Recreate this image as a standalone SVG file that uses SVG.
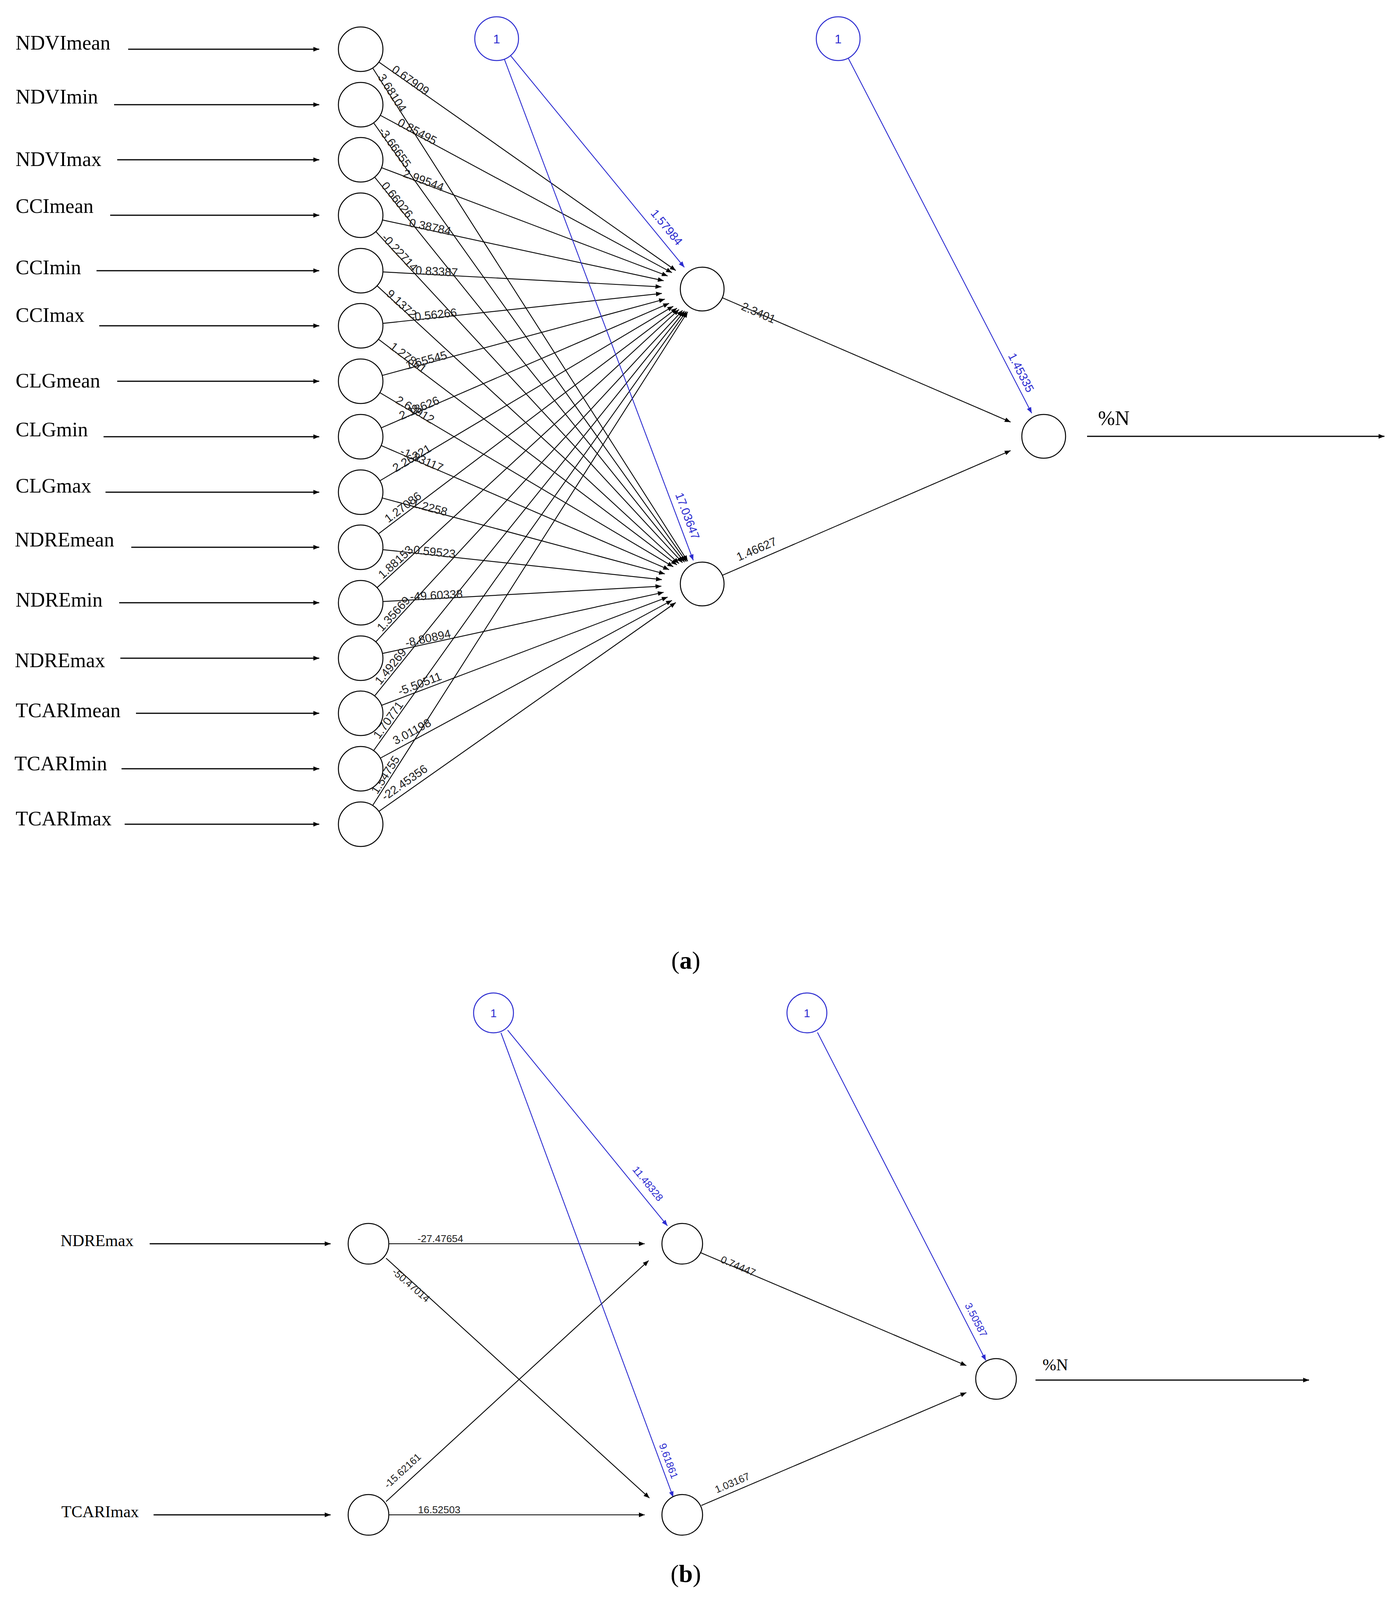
<svg xmlns="http://www.w3.org/2000/svg" width="3570" height="4102" viewBox="0 0 3570 4102">
<style>
.c{fill:#fff;stroke:#000;stroke-width:2.5}
.b{fill:#fff;stroke:#2b2bd0;stroke-width:2.5}
.l{stroke:#000;stroke-width:2.2;fill:none;marker-end:url(#ah)}
.bl{stroke:#2b2bd0;stroke-width:2.2;fill:none;marker-end:url(#bh)}
.in{stroke:#000;stroke-width:3;fill:none;marker-end:url(#ah)}
.lab{font-family:"Liberation Serif",serif;font-size:52px;fill:#000}
.labb{font-family:"Liberation Serif",serif;font-size:42px;fill:#000}
.w{font-family:"Liberation Sans",Arial,sans-serif;font-size:30px;fill:#222;text-anchor:middle}
.wb{font-family:"Liberation Sans",Arial,sans-serif;font-size:26px;fill:#222;text-anchor:middle}
.bw{fill:#2b2bd0}
.one{font-family:"Liberation Sans",Arial,sans-serif;font-size:32px;fill:#2b2bd0;text-anchor:middle}
.cap{font-family:"Liberation Serif",serif;font-size:64px;fill:#000;text-anchor:middle}
</style>
<defs>
<marker id="ah" markerUnits="userSpaceOnUse" markerWidth="16" markerHeight="12" refX="15" refY="6" orient="auto"><path d="M0,0 L15,6 L0,12 z" fill="#000"/></marker>
<marker id="bh" markerUnits="userSpaceOnUse" markerWidth="16" markerHeight="12" refX="15" refY="6" orient="auto"><path d="M0,0 L15,6 L0,12 z" fill="#2b2bd0"/></marker>
</defs>

<g id="connectors">
<!-- (a) input arrows -->
<line class="in" x1="328" y1="126" x2="817" y2="126"/>
<line class="in" x1="292" y1="268" x2="817" y2="268"/>
<line class="in" x1="300" y1="409" x2="817" y2="409"/>
<line class="in" x1="282" y1="551" x2="817" y2="551"/>
<line class="in" x1="247" y1="693" x2="817" y2="693"/>
<line class="in" x1="254" y1="834" x2="817" y2="834"/>
<line class="in" x1="300" y1="976" x2="817" y2="976"/>
<line class="in" x1="265" y1="1118" x2="817" y2="1118"/>
<line class="in" x1="270" y1="1260" x2="817" y2="1260"/>
<line class="in" x1="336" y1="1401" x2="817" y2="1401"/>
<line class="in" x1="305" y1="1543" x2="817" y2="1543"/>
<line class="in" x1="308" y1="1685" x2="817" y2="1685"/>
<line class="in" x1="348" y1="1826" x2="817" y2="1826"/>
<line class="in" x1="311" y1="1968" x2="817" y2="1968"/>
<line class="in" x1="319" y1="2110" x2="817" y2="2110"/>
<line class="in" x1="2782" y1="1117" x2="3543" y2="1117"/>
<!-- (a) input -> hidden -->
<line class="l" x1="969.6" y1="158.8" x2="1729.4" y2="692.5"/>
<line class="l" x1="953.7" y1="174" x2="1760" y2="1437"/>
<line class="l" x1="973.2" y1="295.1" x2="1719.6" y2="698.1"/>
<line class="l" x1="956.1" y1="314.4" x2="1756.3" y2="1437.8"/>
<line class="l" x1="976.3" y1="429.2" x2="1708.6" y2="706.5"/>
<line class="l" x1="958.7" y1="453.4" x2="1751.9" y2="1439"/>
<line class="l" x1="978.7" y1="563.1" x2="1698.4" y2="718.7"/>
<line class="l" x1="961.7" y1="592.8" x2="1746.7" y2="1440.6"/>
<line class="l" x1="979.9" y1="696.1" x2="1692.5" y2="734.3"/>
<line class="l" x1="965" y1="731.6" x2="1737.6" y2="1442.8"/>
<line class="l" x1="979.7" y1="827.9" x2="1693.8" y2="751.1"/>
<line class="l" x1="968.5" y1="868.4" x2="1732.4" y2="1446.2"/>
<line class="l" x1="978" y1="961.2" x2="1701.5" y2="765.8"/>
<line class="l" x1="972" y1="1005.1" x2="1723" y2="1451"/>
<line class="l" x1="975.3" y1="1095.4" x2="1712.3" y2="776.6"/>
<line class="l" x1="975.3" y1="1140.6" x2="1712.3" y2="1458.4"/>
<line class="l" x1="972" y1="1230.9" x2="1723" y2="784"/>
<line class="l" x1="978" y1="1274.8" x2="1701.5" y2="1469.2"/>
<line class="l" x1="968.5" y1="1366.6" x2="1732.4" y2="788.8"/>
<line class="l" x1="979.7" y1="1407.1" x2="1693.8" y2="1483.9"/>
<line class="l" x1="965" y1="1504.4" x2="1737.6" y2="792.2"/>
<line class="l" x1="979.9" y1="1539.9" x2="1692.5" y2="1500.7"/>
<line class="l" x1="961.7" y1="1643.2" x2="1746.7" y2="794.4"/>
<line class="l" x1="978.7" y1="1672.9" x2="1698.4" y2="1516.3"/>
<line class="l" x1="958.7" y1="1781.6" x2="1751.9" y2="796"/>
<line class="l" x1="976.3" y1="1805.8" x2="1708.6" y2="1528.5"/>
<line class="l" x1="956.1" y1="1921.6" x2="1756.3" y2="797.2"/>
<line class="l" x1="973.2" y1="1940.9" x2="1719.6" y2="1536.9"/>
<line class="l" x1="953.7" y1="2062" x2="1760" y2="798"/>
<line class="l" x1="969.6" y1="2077.2" x2="1729.4" y2="1542.5"/>
<!-- (a) hidden -> output, bias -->
<line class="l" x1="1849.3" y1="762.6" x2="2586.3" y2="1080.4"/>
<line class="l" x1="1849.3" y1="1472.4" x2="2586.3" y2="1153.6"/>
<line class="bl" x1="1306.5" y1="142.3" x2="1751.3" y2="684.3"/>
<line class="bl" x1="1290.7" y1="151.4" x2="1774.2" y2="1434.5"/>
<line class="bl" x1="2170.7" y1="148.7" x2="2640.3" y2="1057.7"/>
<!-- (b) -->
<line class="in" x1="383" y1="3184" x2="846" y2="3184"/>
<line class="in" x1="393" y1="3878" x2="846" y2="3878"/>
<line class="in" x1="2650" y1="3533" x2="3350" y2="3533"/>
<line class="l" x1="996" y1="3184" x2="1650" y2="3184"/>
<line class="l" x1="996" y1="3878" x2="1650" y2="3878"/>
<line class="l" x1="988" y1="3221" x2="1662" y2="3835"/>
<line class="l" x1="988" y1="3844" x2="1660" y2="3227"/>
<line class="l" x1="1791" y1="3206" x2="2473" y2="3496"/>
<line class="l" x1="1795" y1="3854" x2="2473" y2="3565"/>
<line class="bl" x1="1299" y1="2637" x2="1708" y2="3138"/>
<line class="bl" x1="1282" y1="2644" x2="1723" y2="3833"/>
<line class="bl" x1="2092" y1="2643" x2="2523" y2="3483"/>
</g>

<g id="weights-a">
<text class="w" transform="translate(1046,212) rotate(35.1)" y="2">0.67909</text>
<text class="w" transform="translate(997,242) rotate(57.4)" y="2">3.68104</text>
<text class="w" transform="translate(1064,344) rotate(28.4)" y="2">0.85495</text>
<text class="w" transform="translate(1004,382) rotate(54.6)" y="2">-3.66655</text>
<text class="w" transform="translate(1081,469) rotate(20.7)" y="2">2.99544</text>
<text class="w" transform="translate(1010,517) rotate(51.2)" y="2">0.66026</text>
<text class="w" transform="translate(1099,589) rotate(12.2)" y="2">0.38784</text>
<text class="w" transform="translate(1017,652) rotate(47.2)" y="2">-0.22714</text>
<text class="w" transform="translate(1117,703) rotate(3.1)" y="2">0.83387</text>
<text class="w" transform="translate(1022,784) rotate(42.5)" y="2">9.1372</text>
<text class="w" transform="translate(1111,814) rotate(-6.1)" y="2">-0.56266</text>
<text class="w" transform="translate(1040,922) rotate(37.1)" y="2">1.27861</text>
<text class="w" transform="translate(1093,930) rotate(-15.1)" y="2">1.65545</text>
<text class="w" transform="translate(1058,1056) rotate(30.7)" y="2">2.68912</text>
<text class="w" transform="translate(1076,1052) rotate(-23.3)" y="2">2.18626</text>
<text class="w" transform="translate(1076,1184) rotate(23.3)" y="2">-1.83117</text>
<text class="w" transform="translate(1058,1180) rotate(-30.7)" y="2">2.26221</text>
<text class="w" transform="translate(1093,1306) rotate(15.1)" y="2">-1.2258</text>
<text class="w" transform="translate(1036,1305) rotate(-37.1)" y="2">1.27086</text>
<text class="w" transform="translate(1111,1421) rotate(6.1)" y="2">0.59523</text>
<text class="w" transform="translate(1018,1445) rotate(-42.5)" y="2">1.88153</text>
<text class="w" transform="translate(1117,1532) rotate(-3.1)" y="2">-49.60338</text>
<text class="w" transform="translate(1013,1577) rotate(-47.2)" y="2">1.35669</text>
<text class="w" transform="translate(1097,1642) rotate(-12.2)" y="2">-8.80894</text>
<text class="w" transform="translate(1006,1711) rotate(-51.2)" y="2">1.49269</text>
<text class="w" transform="translate(1077,1758) rotate(-20.7)" y="2">-5.50511</text>
<text class="w" transform="translate(1000,1848) rotate(-54.6)" y="2">1.70771</text>
<text class="w" transform="translate(1058,1880) rotate(-28.4)" y="2">3.01198</text>
<text class="w" transform="translate(993,1988) rotate(-57.4)" y="2">1.54755</text>
<text class="w" transform="translate(1040,2010) rotate(-35.1)" y="2">-22.45356</text>
<text class="w" transform="translate(1941,801) rotate(23.3)" y="10">2.3401</text>
<text class="w" transform="translate(1936,1406) rotate(-23.3)" y="10">1.46627</text>
<text class="w bw" transform="translate(1706,582) rotate(50.6)" y="10">1.57984</text>
<text class="w bw" transform="translate(1759,1321) rotate(69.4)" y="10">17.03647</text>
<text class="w bw" transform="translate(2613,954) rotate(62.7)" y="10">1.45335</text>
</g>

<g id="weights-b">
<text class="wb" x="1127" y="3180">-27.47654</text>
<text class="wb" x="1124" y="3874">16.52503</text>
<text class="wb" transform="translate(1052,3290) rotate(40.8)" y="9">-50.47014</text>
<text class="wb" transform="translate(1030,3765) rotate(-42.6)" y="9">-15.62161</text>
<text class="wb bw" transform="translate(1658,3030) rotate(50.8)" y="9">11.48328</text>
<text class="wb bw" transform="translate(1711,3740) rotate(69.6)" y="9">9.61861</text>
<text class="wb" transform="translate(1889,3241) rotate(23)" y="9">0.74447</text>
<text class="wb" transform="translate(1874,3796) rotate(-23)" y="9">1.03167</text>
<text class="wb bw" transform="translate(2498,3379) rotate(62.8)" y="9">3.50587</text>
</g>

<g id="input-labels-a">
<text class="lab" x="40" y="127">NDVImean</text>
<text class="lab" x="40" y="265">NDVImin</text>
<text class="lab" x="40" y="425">NDVImax</text>
<text class="lab" x="40" y="545">CCImean</text>
<text class="lab" x="40" y="702">CCImin</text>
<text class="lab" x="40" y="824">CCImax</text>
<text class="lab" x="40" y="992">CLGmean</text>
<text class="lab" x="40" y="1117">CLGmin</text>
<text class="lab" x="40" y="1261">CLGmax</text>
<text class="lab" x="38" y="1399">NDREmean</text>
<text class="lab" x="40" y="1553">NDREmin</text>
<text class="lab" x="38" y="1708">NDREmax</text>
<text class="lab" x="40" y="1836">TCARImean</text>
<text class="lab" x="37" y="1972">TCARImin</text>
<text class="lab" x="40" y="2113">TCARImax</text>
<text class="lab" x="2810" y="1088">%N</text>
</g>

<g id="nodes-a">
<circle class="c" cx="923" cy="126" r="57"/>
<circle class="c" cx="923" cy="268" r="57"/>
<circle class="c" cx="923" cy="409" r="57"/>
<circle class="c" cx="923" cy="551" r="57"/>
<circle class="c" cx="923" cy="693" r="57"/>
<circle class="c" cx="923" cy="834" r="57"/>
<circle class="c" cx="923" cy="976" r="57"/>
<circle class="c" cx="923" cy="1118" r="57"/>
<circle class="c" cx="923" cy="1260" r="57"/>
<circle class="c" cx="923" cy="1401" r="57"/>
<circle class="c" cx="923" cy="1543" r="57"/>
<circle class="c" cx="923" cy="1685" r="57"/>
<circle class="c" cx="923" cy="1826" r="57"/>
<circle class="c" cx="923" cy="1968" r="57"/>
<circle class="c" cx="923" cy="2110" r="57"/>
<circle class="c" cx="1797" cy="740" r="56"/>
<circle class="c" cx="1797" cy="1495" r="56"/>
<circle class="c" cx="2671" cy="1117" r="56"/>
<g id="bias-a1"><circle class="b" cx="1271" cy="99" r="56"/><text class="one" x="1271" y="111">1</text></g>
<g id="bias-a2"><circle class="b" cx="2145" cy="99" r="56"/><text class="one" x="2145" y="111">1</text></g>
</g>

<g id="nodes-b">
<text class="labb" x="155" y="3190">NDREmax</text>
<text class="labb" x="157" y="3884">TCARImax</text>
<text class="labb" x="2668" y="3508">%N</text>
<circle class="c" cx="943" cy="3184" r="52"/>
<circle class="c" cx="943" cy="3878" r="52"/>
<circle class="c" cx="1746" cy="3184" r="52"/>
<circle class="c" cx="1746" cy="3878" r="52"/>
<circle class="c" cx="2549" cy="3530" r="52"/>
<g id="bias-b1"><circle class="b" cx="1263" cy="2593" r="51"/><text class="one" x="1263" y="2604" style="font-size:29px">1</text></g>
<g id="bias-b2"><circle class="b" cx="2065" cy="2593" r="51"/><text class="one" x="2065" y="2604" style="font-size:29px">1</text></g>
</g>

<g id="captions">
<text class="cap" x="1755" y="2480">(<tspan font-weight="bold">a</tspan>)</text>
<text class="cap" x="1755" y="4050">(<tspan font-weight="bold">b</tspan>)</text>
</g>
</svg>
